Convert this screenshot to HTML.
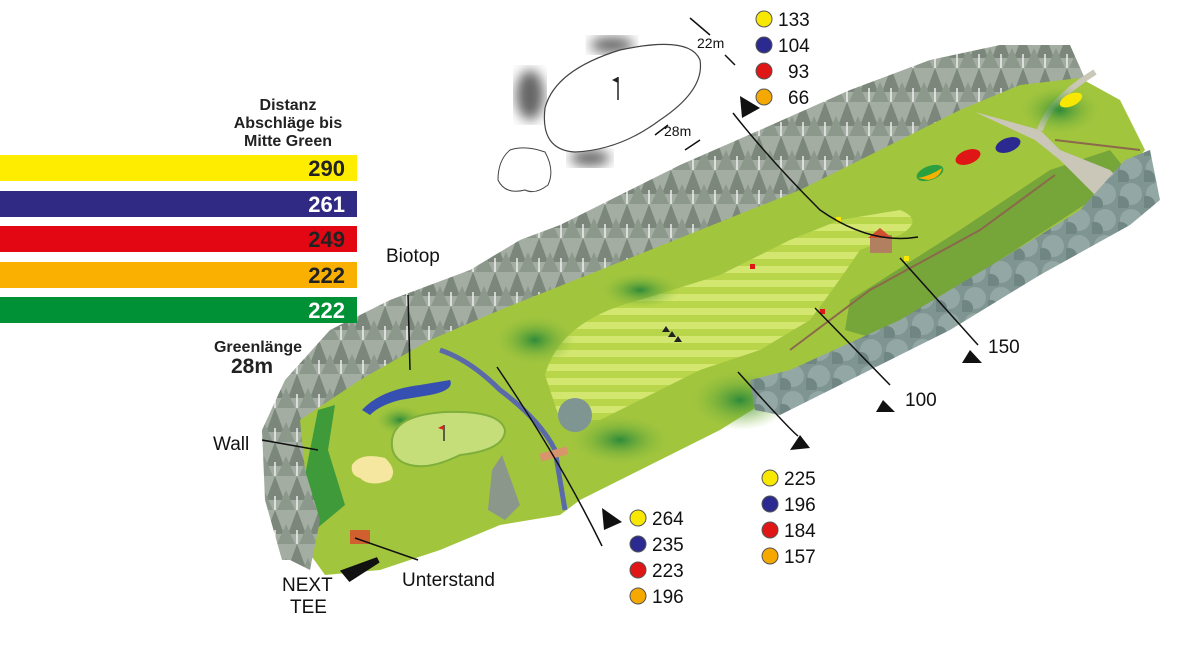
<!DOCTYPE html>
<html><head><meta charset="utf-8">
<style>
html,body{margin:0;padding:0;background:#fff;}
body{width:1200px;height:664px;overflow:hidden;position:relative;font-family:"Liberation Sans",sans-serif;}
.bar{position:absolute;left:0;width:357px;height:26px;text-align:right;font-weight:bold;font-size:22px;line-height:27px;box-sizing:border-box;padding-right:12px;}
</style></head><body>
<svg width="1200" height="664" viewBox="0 0 1200 664" style="position:absolute;left:0;top:0" font-family="Liberation Sans, sans-serif">
<defs>
<pattern id="tr" width="22" height="34" patternUnits="userSpaceOnUse">
<rect width="22" height="34" fill="#a4ada2"/>
<path d="M11 0 L20 24 L2 24 Z" fill="#7a877a"/>
<path d="M0 14 L9 34 L-9 34Z M22 14 L31 34 L13 34Z" fill="#8c988c"/>
<path d="M11 20 L11 34" stroke="#eee" stroke-width="1.5"/>
</pattern>
<pattern id="bt" width="26" height="26" patternUnits="userSpaceOnUse">
<rect width="26" height="26" fill="#7f9592"/>
<circle cx="13" cy="12" r="11" fill="#93a8a4"/>
<circle cx="3" cy="22" r="8" fill="#6f8683"/>
</pattern>
<pattern id="st" width="20" height="14" patternUnits="userSpaceOnUse">
<rect width="20" height="14" fill="#b9d64a"/>
<rect width="20" height="7" fill="#d2e670"/>
</pattern>
<radialGradient id="dk"><stop offset="0" stop-color="#2e8a3a"/><stop offset="1" stop-color="#8fbf3a" stop-opacity="0"/></radialGradient>
<filter id="bl"><feGaussianBlur stdDeviation="6"/></filter>
</defs>

<!-- top tree band -->
<path d="M262 430 L285 380 L330 330 L390 300 L430 285 L470 270 L520 240 L560 225 L620 195 L680 165 L760 130 L850 90 L930 60 L1000 45 L1070 45 L1090 90 L1000 120 L900 160 L820 200 L700 240 L600 280 L500 330 L420 360 L360 400 L330 440 L310 500 L300 560 L282 560 L265 500Z" fill="url(#tr)"/>
<!-- course -->
<path d="M300 420 L360 380 L430 340 L500 310 L600 270 L700 230 L800 190 L880 150 L960 110 L1020 85 L1080 78 L1120 100 L1145 150 L1100 200 L1000 260 L900 320 L800 380 L720 430 L640 470 L580 500 L560 515 L500 525 L440 550 L380 570 L325 575 L300 540 L295 480Z" fill="#a2c53e"/>
<path d="M850 300 L960 230 L1050 170 L1110 150 L1130 175 L1000 260 L880 340 L845 330Z" fill="#76a53a"/>
<path d="M975 112 L1040 130 L1060 150 L1110 170 L1130 190 L1100 200 L1060 160 L1035 140Z" fill="#cac6b8"/>
<path d="M1040 130 Q1050 100 1095 72" stroke="#cac6b8" stroke-width="6" fill="none"/>
<!-- fairway -->
<path d="M545 375 Q560 320 640 300 L720 275 L790 240 L840 220 L900 210 Q925 220 900 235 L860 250 Q840 280 810 320 L760 350 L700 370 L640 400 L600 420 L560 420 Z" fill="url(#st)"/>
<ellipse cx="535" cy="340" rx="40" ry="25" fill="url(#dk)"/>
<ellipse cx="640" cy="290" rx="40" ry="18" fill="url(#dk)"/>
<ellipse cx="740" cy="400" rx="50" ry="30" fill="url(#dk)"/>
<ellipse cx="620" cy="440" rx="50" ry="25" fill="url(#dk)"/>
<ellipse cx="1060" cy="110" rx="40" ry="25" fill="url(#dk)"/>
<ellipse cx="400" cy="420" rx="25" ry="15" fill="url(#dk)"/>
<path d="M318 410 L335 405 L328 450 L345 505 L315 530 L300 500Z" fill="#3f9a3a"/>
<!-- right tree band -->
<path d="M750 380 L790 370 L900 320 L1000 260 L1080 210 L1125 160 L1150 150 L1160 200 L1130 225 L1040 275 L950 330 L860 375 L780 415 L755 410Z" fill="url(#bt)"/>
<path d="M262 430 L300 420 L305 470 L320 520 L310 570 L290 560 L268 500Z" fill="url(#tr)"/>
<path d="M492 470 L502 455 L520 505 L505 520 L488 510 Z" fill="#8a978a"/>
<circle cx="575" cy="415" r="17" fill="#7f9592"/>
<path d="M440 350 Q470 360 500 390 Q540 420 555 450 L565 510" stroke="#5a6aa8" stroke-width="5" fill="none"/>
<path d="M362 410 Q380 390 420 385 L450 380 Q455 390 430 395 L400 400 Q380 405 370 415Z" fill="#3550b0"/>
<path d="M392 440 Q395 415 445 412 Q500 410 505 430 Q505 450 460 455 Q430 470 410 465 Q390 460 392 440Z" fill="#c5de7a" stroke="#7fae3a" stroke-width="2"/>
<line x1="444" y1="425" x2="444" y2="441" stroke="#333" stroke-width="1.5"/>
<path d="M444 425 L438 428 L444 430Z" fill="#e02020"/>
<path d="M352 465 Q360 452 385 458 Q398 470 390 480 Q370 488 360 478 Q350 475 352 465Z" fill="#f6e7a0"/>
<rect x="540" y="450" width="28" height="8" fill="#d8946a" transform="rotate(-15 554 454)"/>
<rect x="350" y="530" width="20" height="14" fill="#d06030"/>
<rect x="870" y="235" width="22" height="18" fill="#b08060"/>
<path d="M868 238 L880 228 L892 238Z" fill="#d05030"/>
<ellipse cx="930" cy="173" rx="14" ry="7" fill="#2aa040" transform="rotate(-20 930 173)"/>
<path d="M918 178 Q930 176 942 168 Q940 178 928 180Z" fill="#f5b000"/>
<ellipse cx="968" cy="157" rx="13" ry="7" fill="#e01515" transform="rotate(-20 968 157)"/>
<ellipse cx="1008" cy="145" rx="13" ry="7" fill="#2a2a90" transform="rotate(-20 1008 145)"/>
<ellipse cx="1071" cy="100" rx="12" ry="6" fill="#f8e800" transform="rotate(-25 1071 100)"/>
<path d="M790 350 L870 290 L980 230 L1055 175" stroke="#8a6a4a" stroke-width="2" fill="none"/>
<path d="M1055 140 L1140 150" stroke="#8a6a4a" stroke-width="2" fill="none"/>
<rect x="836" y="217" width="5" height="5" fill="#f8e800"/>
<rect x="750" y="264" width="5" height="5" fill="#e01515"/>
<rect x="820" y="309" width="5" height="5" fill="#e01515"/>
<rect x="904" y="256" width="5" height="5" fill="#f8e800"/>
<path d="M662 332 l4 -6 l4 6z M668 337 l4 -6 l4 6z M674 342 l4 -6 l4 6z" fill="#222"/>
<!-- top inset -->
<ellipse cx="530" cy="95" rx="14" ry="25" fill="#333" filter="url(#bl)" opacity=".75"/>
<ellipse cx="612" cy="45" rx="22" ry="8" fill="#333" filter="url(#bl)" opacity=".75"/>
<ellipse cx="590" cy="158" rx="20" ry="8" fill="#333" filter="url(#bl)" opacity=".75"/>
<path d="M545 108 Q555 70 620 50 Q690 35 700 60 Q705 90 660 120 Q620 150 575 152 Q540 150 545 108Z" fill="#fff" stroke="#444" stroke-width="1.2"/>
<line x1="618" y1="77" x2="618" y2="100" stroke="#222" stroke-width="1.5"/>
<path d="M618 77 L612 80 L618 83Z" fill="#222"/>
<path d="M510 150 Q525 145 545 152 Q555 170 548 185 Q535 195 525 190 Q505 195 498 180 Q498 160 510 150Z" fill="#fff" stroke="#444" stroke-width="1"/>
<g stroke="#111" stroke-width="1.5" fill="none">
<path d="M690 18 L710 35 M725 55 L735 65"/>
<path d="M685 150 L700 140 M668 125 L655 135"/>
<path d="M733 113 Q770 160 820 210 Q870 245 918 237"/>
<path d="M497 367 Q560 460 602 546"/>
<path d="M738 372 Q790 430 798 436"/>
<path d="M815 308 L890 385"/>
<path d="M900 258 L978 345"/>
<path d="M408 295 L410 370"/>
<path d="M262 440 L318 450"/>
<path d="M355 538 L418 560"/>
</g>
<path d="M740 96 L760 108 L742 118Z M602 508 L622 522 L604 530Z M790 450 L810 448 L800 435Z M876 412 L895 412 L883 400Z M962 363 L982 363 L970 350Z" fill="#111"/>
<path d="M378 560 L350 578 L345 572 Z" fill="#111" stroke="#111" stroke-width="6"/>
<g font-size="19" fill="#111">
<circle cx="764" cy="19" r="8" fill="#f8e800" stroke="#555"/><text x="778" y="26">133</text>
<circle cx="764" cy="45" r="8" fill="#2a2a90" stroke="#555"/><text x="778" y="52">104</text>
<circle cx="764" cy="71" r="8" fill="#e01515" stroke="#555"/><text x="788" y="78">93</text>
<circle cx="764" cy="97" r="8" fill="#f5a800" stroke="#555"/><text x="788" y="104">66</text>
<circle cx="638" cy="518" r="8" fill="#f8e800" stroke="#555"/><text x="652" y="525">264</text>
<circle cx="638" cy="544" r="8" fill="#2a2a90" stroke="#555"/><text x="652" y="551">235</text>
<circle cx="638" cy="570" r="8" fill="#e01515" stroke="#555"/><text x="652" y="577">223</text>
<circle cx="638" cy="596" r="8" fill="#f5a800" stroke="#555"/><text x="652" y="603">196</text>
<circle cx="770" cy="478" r="8" fill="#f8e800" stroke="#555"/><text x="784" y="485">225</text>
<circle cx="770" cy="504" r="8" fill="#2a2a90" stroke="#555"/><text x="784" y="511">196</text>
<circle cx="770" cy="530" r="8" fill="#e01515" stroke="#555"/><text x="784" y="537">184</text>
<circle cx="770" cy="556" r="8" fill="#f5a800" stroke="#555"/><text x="784" y="563">157</text>
<text x="988" y="353">150</text>
<text x="905" y="406">100</text>
<text x="386" y="262">Biotop</text>
<text x="213" y="450">Wall</text>
<text x="402" y="586">Unterstand</text>
<text x="282" y="591">NEXT</text>
<text x="290" y="613">TEE</text>
</g>
<text x="697" y="48" font-size="14" fill="#111">22m</text>
<text x="664" y="136" font-size="14" fill="#111">28m</text>
<g font-weight="bold" fill="#222" text-anchor="middle">
<text x="288" y="110" font-size="16">Distanz</text>
<text x="288" y="128" font-size="16">Abschläge bis</text>
<text x="288" y="146" font-size="16">Mitte Green</text>
<text x="258" y="352" font-size="16">Greenlänge</text>
<text x="252" y="373" font-size="21">28m</text>
</g>
</svg>
<div class="bar" style="top:155px;background:#ffed00;color:#222">290</div>
<div class="bar" style="top:191px;background:#312a84;color:#fff">261</div>
<div class="bar" style="top:226px;background:#e30613;color:#222">249</div>
<div class="bar" style="top:262px;background:#f9b000;color:#222">222</div>
<div class="bar" style="top:297px;background:#009036;color:#fff">222</div>
</body></html>
